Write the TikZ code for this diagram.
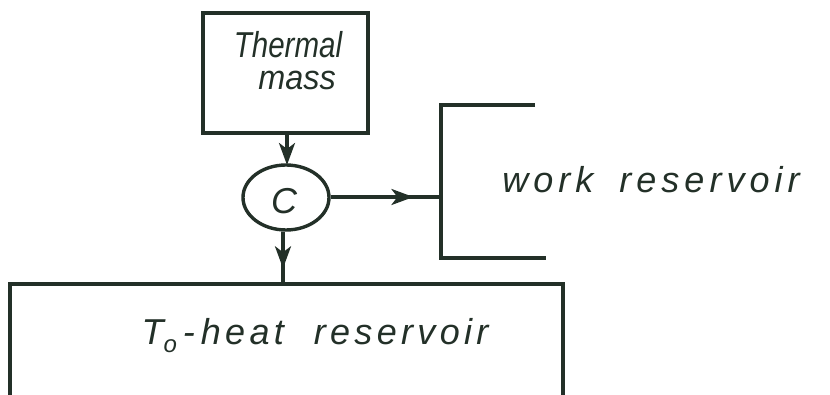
\documentclass[tikz,border=0pt]{standalone}
\usepackage{fontspec}
\setmainfont{Liberation Sans}
\usetikzlibrary{arrows.meta,shapes.geometric,decorations.markings}
\definecolor{ink}{RGB}{35,48,40}
\tikzset{
  ln/.style={line width=3.4pt,draw=ink},
  mytip/.tip={Stealth[length=22pt,width=16pt,inset=6pt]},
  tipmid/.style={postaction={decorate},decoration={markings,mark=at position #1 with {\arrow{mytip}}}},
  hand/.style={font=\itshape\fontsize{36}{38}\selectfont,text=ink,inner sep=0pt}
}
\begin{document}
\begin{tikzpicture}[x=1pt,y=-1pt]
\useasboundingbox (0,0) rectangle (830,395);
\node[ln,rectangle,minimum width=165pt,minimum height=120pt,inner sep=0pt] (tm) at (285.5,73) {};
\node[hand] (t1) at (288,45) {\scalebox{0.82}[1.0]{Thermal}};
\node[hand] (t2) at (297,80) {\scalebox{0.9}[0.95]{mass}};
\node[ln,ellipse,minimum width=86pt,minimum height=65pt,inner sep=0pt] (c) at (286,197.5) {};
\node[hand] (cl) at (284,201) {\scalebox{1.0}[1.0]{C}};
% work reservoir bracket
\coordinate (wt) at (535,105);
\coordinate (wtl) at (441,105);
\coordinate (wbl) at (441,258);
\coordinate (wb) at (546,258);
\coordinate (wm) at (441,197);
\draw[ln,line join=miter] (wt) -- (wtl) -- (wbl) -- (wb);
\node[hand] (wr) at (651,180) {\addfontfeature{LetterSpace=14}work\hspace{26pt}reservoir};
% heat reservoir
\coordinate (h1) at (10,395);
\coordinate (h2) at (10,284);
\coordinate (h3) at (563,284);
\coordinate (h4) at (563,395);
\coordinate (hm) at (283,284);
\draw[ln,line join=miter] (h1) -- (h2) -- (h3) -- (h4);
\node[hand] (hr) at (315,336) {\addfontfeature{LetterSpace=12}T\raisebox{-8pt}{\fontsize{24}{24}\selectfont o}\,-\,heat\hspace{30pt}reservoir};
% connectors
\draw[ln,-mytip] (tm.south -| 287,0) -- (287,165);
\draw[ln,tipmid=0.75] (c.east |- 0,197) -- (wm);
\draw[ln,tipmid=0.7] (c.south -| 283,0) -- (hm);
\end{tikzpicture}
\end{document}
